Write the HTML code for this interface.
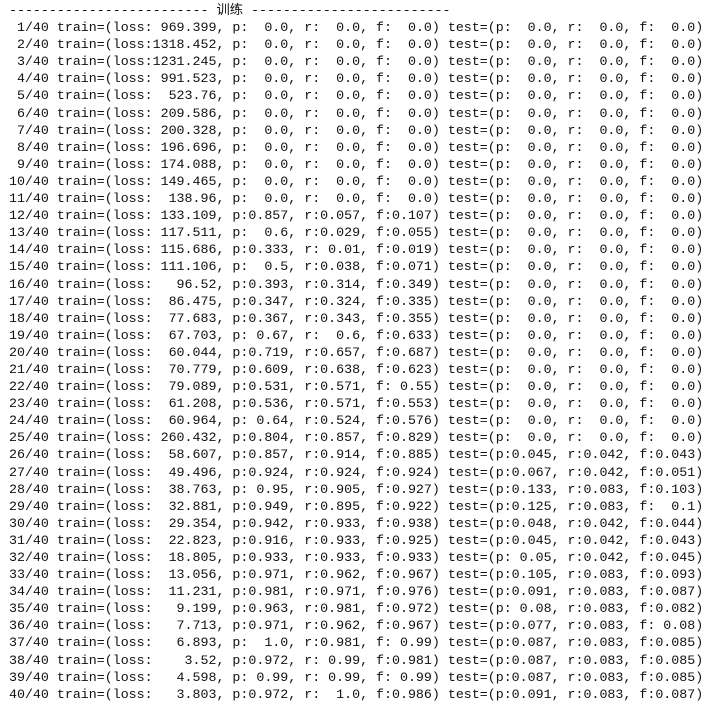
<!DOCTYPE html>
<html><head><meta charset="utf-8"><style>
html,body{margin:0;padding:0;background:#fff;width:718px;height:706px;overflow:hidden}
pre{margin:0;position:absolute;left:1px;top:2px;font-family:"Liberation Mono","Noto Sans CJK SC",monospace;font-size:13.3px;line-height:17.1px;color:#111}
</style></head><body>
<pre><span> ------------------------- 训练 -------------------------</span>
  1/40 train=(loss: 969.399, p:  0.0, r:  0.0, f:  0.0) test=(p:  0.0, r:  0.0, f:  0.0)
  2/40 train=(loss:1318.452, p:  0.0, r:  0.0, f:  0.0) test=(p:  0.0, r:  0.0, f:  0.0)
  3/40 train=(loss:1231.245, p:  0.0, r:  0.0, f:  0.0) test=(p:  0.0, r:  0.0, f:  0.0)
  4/40 train=(loss: 991.523, p:  0.0, r:  0.0, f:  0.0) test=(p:  0.0, r:  0.0, f:  0.0)
  5/40 train=(loss:  523.76, p:  0.0, r:  0.0, f:  0.0) test=(p:  0.0, r:  0.0, f:  0.0)
  6/40 train=(loss: 209.586, p:  0.0, r:  0.0, f:  0.0) test=(p:  0.0, r:  0.0, f:  0.0)
  7/40 train=(loss: 200.328, p:  0.0, r:  0.0, f:  0.0) test=(p:  0.0, r:  0.0, f:  0.0)
  8/40 train=(loss: 196.696, p:  0.0, r:  0.0, f:  0.0) test=(p:  0.0, r:  0.0, f:  0.0)
  9/40 train=(loss: 174.088, p:  0.0, r:  0.0, f:  0.0) test=(p:  0.0, r:  0.0, f:  0.0)
 10/40 train=(loss: 149.465, p:  0.0, r:  0.0, f:  0.0) test=(p:  0.0, r:  0.0, f:  0.0)
 11/40 train=(loss:  138.96, p:  0.0, r:  0.0, f:  0.0) test=(p:  0.0, r:  0.0, f:  0.0)
 12/40 train=(loss: 133.109, p:0.857, r:0.057, f:0.107) test=(p:  0.0, r:  0.0, f:  0.0)
 13/40 train=(loss: 117.511, p:  0.6, r:0.029, f:0.055) test=(p:  0.0, r:  0.0, f:  0.0)
 14/40 train=(loss: 115.686, p:0.333, r: 0.01, f:0.019) test=(p:  0.0, r:  0.0, f:  0.0)
 15/40 train=(loss: 111.106, p:  0.5, r:0.038, f:0.071) test=(p:  0.0, r:  0.0, f:  0.0)
 16/40 train=(loss:   96.52, p:0.393, r:0.314, f:0.349) test=(p:  0.0, r:  0.0, f:  0.0)
 17/40 train=(loss:  86.475, p:0.347, r:0.324, f:0.335) test=(p:  0.0, r:  0.0, f:  0.0)
 18/40 train=(loss:  77.683, p:0.367, r:0.343, f:0.355) test=(p:  0.0, r:  0.0, f:  0.0)
 19/40 train=(loss:  67.703, p: 0.67, r:  0.6, f:0.633) test=(p:  0.0, r:  0.0, f:  0.0)
 20/40 train=(loss:  60.044, p:0.719, r:0.657, f:0.687) test=(p:  0.0, r:  0.0, f:  0.0)
 21/40 train=(loss:  70.779, p:0.609, r:0.638, f:0.623) test=(p:  0.0, r:  0.0, f:  0.0)
 22/40 train=(loss:  79.089, p:0.531, r:0.571, f: 0.55) test=(p:  0.0, r:  0.0, f:  0.0)
 23/40 train=(loss:  61.208, p:0.536, r:0.571, f:0.553) test=(p:  0.0, r:  0.0, f:  0.0)
 24/40 train=(loss:  60.964, p: 0.64, r:0.524, f:0.576) test=(p:  0.0, r:  0.0, f:  0.0)
 25/40 train=(loss: 260.432, p:0.804, r:0.857, f:0.829) test=(p:  0.0, r:  0.0, f:  0.0)
 26/40 train=(loss:  58.607, p:0.857, r:0.914, f:0.885) test=(p:0.045, r:0.042, f:0.043)
 27/40 train=(loss:  49.496, p:0.924, r:0.924, f:0.924) test=(p:0.067, r:0.042, f:0.051)
 28/40 train=(loss:  38.763, p: 0.95, r:0.905, f:0.927) test=(p:0.133, r:0.083, f:0.103)
 29/40 train=(loss:  32.881, p:0.949, r:0.895, f:0.922) test=(p:0.125, r:0.083, f:  0.1)
 30/40 train=(loss:  29.354, p:0.942, r:0.933, f:0.938) test=(p:0.048, r:0.042, f:0.044)
 31/40 train=(loss:  22.823, p:0.916, r:0.933, f:0.925) test=(p:0.045, r:0.042, f:0.043)
 32/40 train=(loss:  18.805, p:0.933, r:0.933, f:0.933) test=(p: 0.05, r:0.042, f:0.045)
 33/40 train=(loss:  13.056, p:0.971, r:0.962, f:0.967) test=(p:0.105, r:0.083, f:0.093)
 34/40 train=(loss:  11.231, p:0.981, r:0.971, f:0.976) test=(p:0.091, r:0.083, f:0.087)
 35/40 train=(loss:   9.199, p:0.963, r:0.981, f:0.972) test=(p: 0.08, r:0.083, f:0.082)
 36/40 train=(loss:   7.713, p:0.971, r:0.962, f:0.967) test=(p:0.077, r:0.083, f: 0.08)
 37/40 train=(loss:   6.893, p:  1.0, r:0.981, f: 0.99) test=(p:0.087, r:0.083, f:0.085)
 38/40 train=(loss:    3.52, p:0.972, r: 0.99, f:0.981) test=(p:0.087, r:0.083, f:0.085)
 39/40 train=(loss:   4.598, p: 0.99, r: 0.99, f: 0.99) test=(p:0.087, r:0.083, f:0.085)
 40/40 train=(loss:   3.803, p:0.972, r:  1.0, f:0.986) test=(p:0.091, r:0.083, f:0.087)</pre>
</body></html>
